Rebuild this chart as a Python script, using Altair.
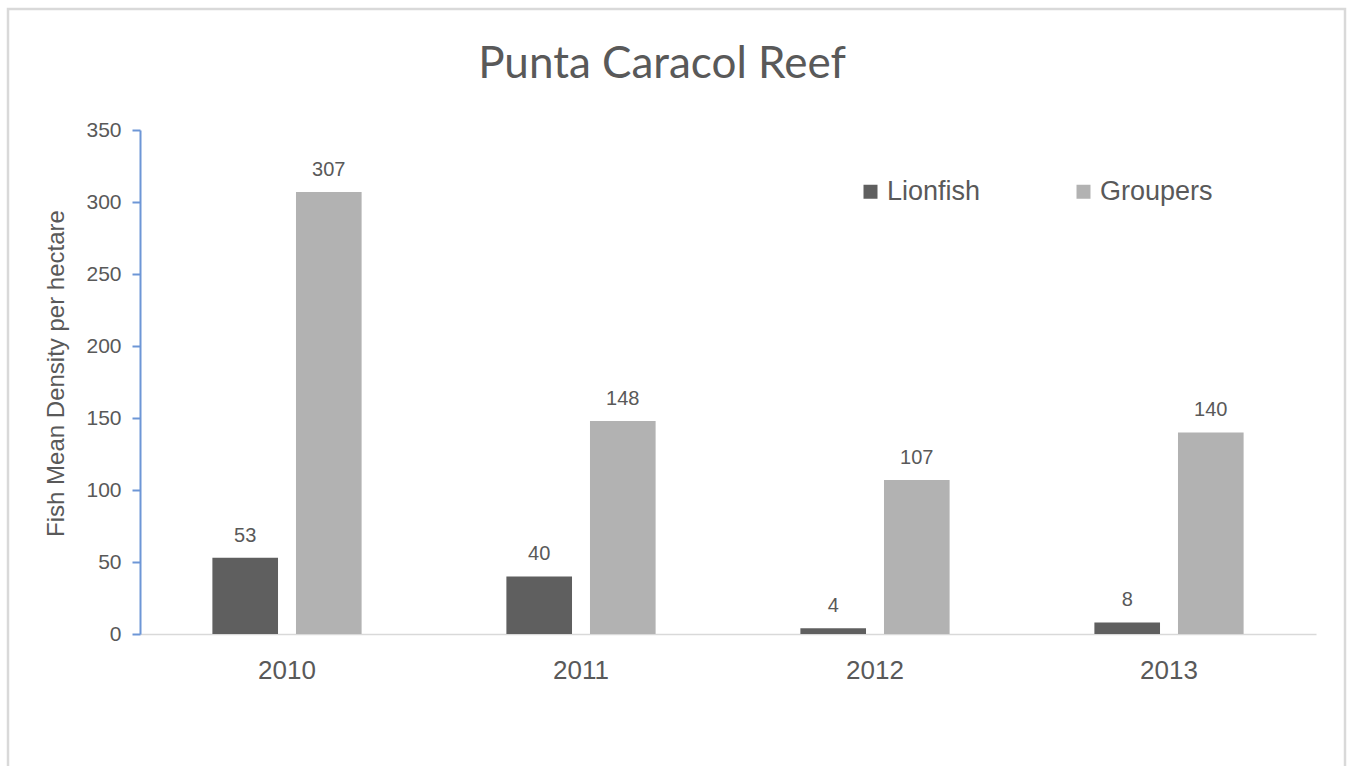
import altair as alt
import pandas as pd

years = ["2010", "2011", "2012", "2013"]
lionfish = [53, 40, 4, 8]
groupers = [307, 148, 107, 140]
series = ["Lionfish", "Groupers"]
colors = ["#5f5f5f", "#b2b2b2"]
y_ticks = [0, 50, 100, 150, 200, 250, 300, 350]

rows = []
for i, yr in enumerate(years):
    rows.append({"year": yr, "species": "Lionfish", "value": lionfish[i]})
    rows.append({"year": yr, "species": "Groupers", "value": groupers[i]})
df = pd.DataFrame(rows)

TXT = "#595959"

x_enc = alt.X("year:N", sort=years,
              scale=alt.Scale(paddingInner=0, paddingOuter=0),
              axis=alt.Axis(title=None, labelAngle=0, ticks=False, labelPadding=44,
                            labelBaseline="alphabetic", labelFontSize=26,
                            labelFont="Liberation Sans", labelColor=TXT,
                            domainColor="#d9d9d9", domainWidth=1.5))
xoff = alt.XOffset("species:N", sort=series,
                   scale=alt.Scale(paddingInner=0.215, paddingOuter=0.866))
y_enc = alt.Y("value:Q", scale=alt.Scale(domain=[0, 350], nice=False),
              axis=alt.Axis(values=y_ticks, grid=False, title="Fish Mean Density per hectare",
                            titleFont="Liberation Sans", titleFontSize=24, titleFontWeight="normal",
                            titleColor=TXT, titleX=-77, titleY=243, titleAngle=-90,
                            titleAlign="center", titleBaseline="alphabetic",
                            labelFont="Liberation Sans", labelFontSize=21, labelColor=TXT,
                            labelPadding=11, tickSize=8, tickColor="#6d96d6",
                            domainColor="#6d96d6", domainWidth=2, tickWidth=2))

bars = alt.Chart(df).mark_bar().encode(
    x=x_enc, xOffset=xoff, y=y_enc,
    color=alt.Color("species:N", sort=series,
                    scale=alt.Scale(domain=series, range=colors),
                    legend=alt.Legend(title=None, orient="none", legendX=717, legendY=48,
                                      direction="horizontal", symbolType="square",
                                      symbolSize=196, symbolStrokeWidth=0,
                                      labelFont="Liberation Sans", labelFontSize=27,
                                      labelColor=TXT, labelOffset=3, columnPadding=89,
                                      padding=0))
)

labels = alt.Chart(df).mark_text(baseline="alphabetic", dy=-16, font="Liberation Sans",
                                 fontSize=20, color=TXT).encode(
    x=alt.X("year:N", sort=years), xOffset=alt.XOffset("species:N", sort=series),
    y="value:Q", text="value:Q")

frame = alt.Chart(alt.Data(values=[{}])).mark_rect(
    fillOpacity=0, stroke="#d9d9d9", strokeWidth=2.5).encode(
    x=alt.value(-132), x2=alt.value(1205), y=alt.value(-121), y2=alt.value(700))

chart = alt.layer(bars, labels, frame).properties(
    width=1176, height=504,
    title=alt.TitleParams("Punta Caracol Reef", anchor="middle", font="Lato",
                          fontSize=44, fontWeight="normal", color=TXT,
                          baseline="alphabetic", offset=50, dx=-66, dy=164),
    autosize=alt.AutoSizeParams(type="none"),
    padding={"left": 140, "top": 130, "right": 33, "bottom": 132},
).configure(background="white").configure_view(stroke="transparent", strokeWidth=0)

chart.save("out.html", embed_options={"renderer": "svg", "actions": False})
